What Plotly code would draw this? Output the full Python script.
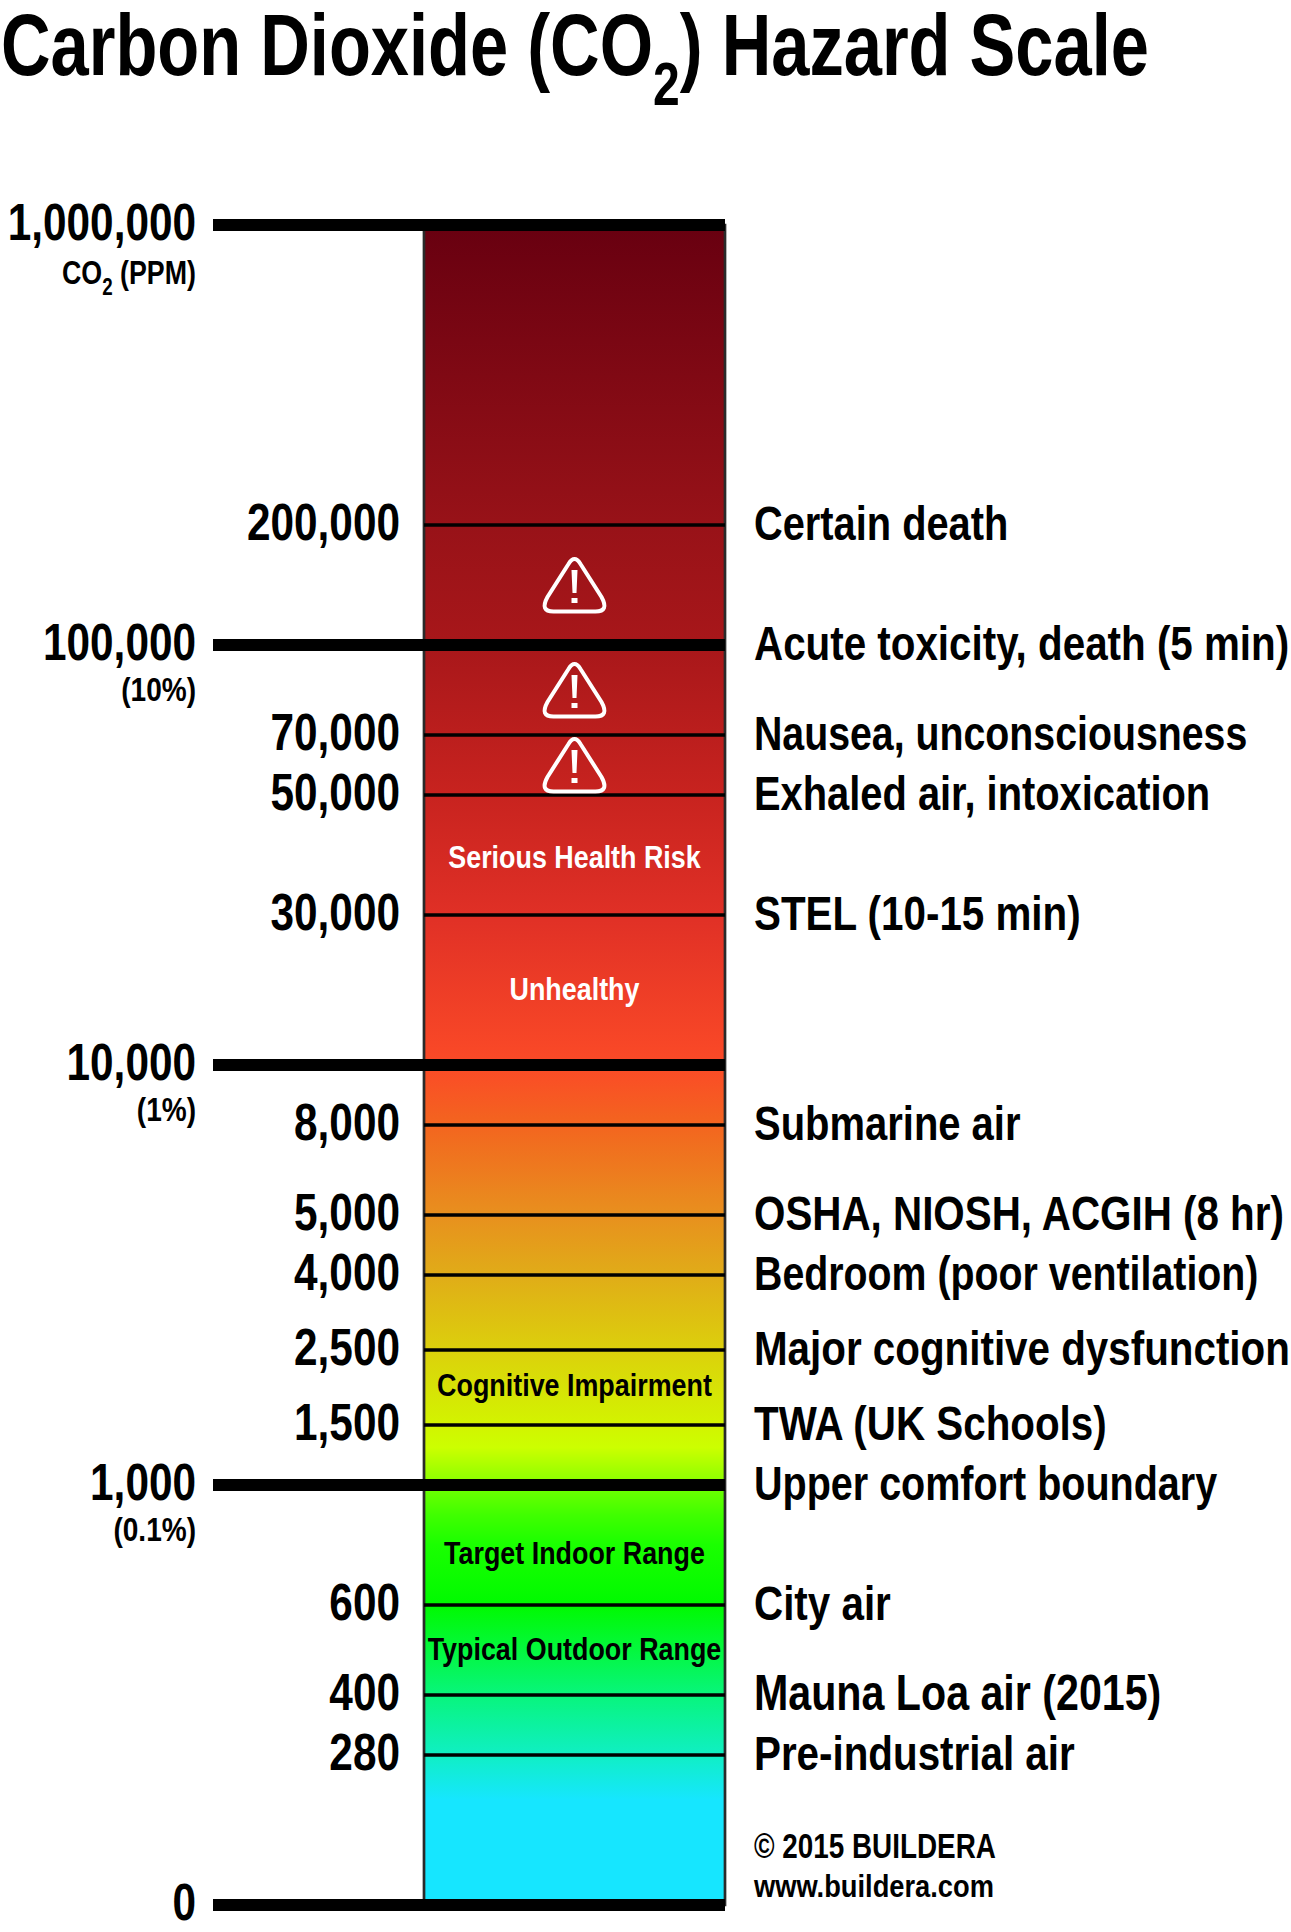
import plotly.graph_objects as go

# ---- data: printed scale (ppm), and where each level sits on the chart's uneven scale
major_ppm_labels = ["1,000,000", "100,000", "10,000", "1,000", "0"]
major_scale = [112, 84, 56, 28, 0]
major_notes = ["CO<sub>2</sub> (PPM)", "(10%)", "(1%)", "(0.1%)"]
major_note_scale = [108.8, 81, 53, 25]

minor_ppm_labels = ["200,000", "70,000", "50,000", "30,000", "8,000", "5,000", "4,000",
                    "2,500", "1,500", "600", "400", "280"]
minor_scale = [92, 78, 74, 66, 52, 46, 42, 37, 32, 20, 14, 10]

effect_labels = ["Certain death", "Acute toxicity, death (5 min)", "Nausea, unconsciousness",
                 "Exhaled air, intoxication", "STEL (10-15 min)", "Submarine air",
                 "OSHA, NIOSH, ACGIH (8 hr)", "Bedroom (poor ventilation)",
                 "Major cognitive dysfunction", "TWA (UK Schools)", "Upper comfort boundary",
                 "City air", "Mauna Loa air (2015)", "Pre-industrial air"]
effect_scale = [92, 84, 78, 74, 66, 52, 46, 42, 37, 32, 28, 20, 14, 10]

zone_labels_light = ["Serious Health Risk", "Unhealthy"]
zone_scale_light = [69.8, 61]
zone_labels_dark = ["Cognitive Impairment", "Target Indoor Range", "Typical Outdoor Range"]
zone_scale_dark = [34.6, 23.4, 17]

warning_scale = [88, 81, 76]

title_text = "Carbon Dioxide (CO<sub>2</sub>) Hazard Scale"
credit_labels = ["© 2015 BUILDERA", "www.buildera.com"]
credit_scale = [3.9, 1.2]

gradient_scale = [0, 7, 10, 14, 20, 24, 26, 27.5, 28.5, 30.5, 32, 37, 42, 46, 52, 56, 66, 74, 84, 92, 112]
gradient_colors = ["#16e6ff", "#16e6ff", "#10efc4", "#08f57c", "#00fa00", "#1aff00", "#40ff00",
                   "#66ff00", "#94ff00", "#ccff00", "#d2f400", "#dcd00c", "#e0ac18", "#e8901e",
                   "#f3651f", "#fb4a27", "#e03026", "#c8231f", "#a8171a", "#981218", "#680010"]

# ---- page geometry
W, H = 1291, 1932
BAR_L, BAR_R = 424, 725
TICK_L = 213
FONT = "Liberation Sans"
unit = 15.0
y_bottom = -(H - 1905) / unit
y_top = 1905 / unit
title_y = (1905 - 50) / unit

fig = go.Figure()
s0, s1 = gradient_scale[0], gradient_scale[-1]
cs = [[(v - s0) / (s1 - s0), c] for v, c in zip(gradient_scale, gradient_colors)]
fig.add_trace(go.Scatter(
    x=[BAR_L, BAR_R, BAR_R, BAR_L, BAR_L], y=[s0, s0, s1, s1, s0], mode="lines",
    line=dict(color="#2a2a2a", width=2.7), fill="toself", fillcolor="rgba(0,0,0,0)",
    fillgradient=dict(type="vertical", colorscale=cs, start=s0, stop=s1),
))
for v in set(minor_scale):
    fig.add_trace(go.Scatter(x=[BAR_L, BAR_R], y=[v, v], mode="lines",
                             line=dict(color="black", width=3.4)))
for v in major_scale:
    fig.add_trace(go.Scatter(x=[TICK_L, BAR_R], y=[v, v], mode="lines",
                             line=dict(color="black", width=12)))

def txt(x, y, text, pos, size, color="black"):
    fig.add_trace(go.Scatter(x=[x] * len(y), y=y, text=text, mode="text", textposition=pos,
                             cliponaxis=False,
                             textfont=dict(family=FONT, size=size, color=color, weight=700)))

txt(196, major_scale, major_ppm_labels, "middle left", 51)
txt(196, major_note_scale, major_notes, "middle left", 33)
txt(400, minor_scale, minor_ppm_labels, "middle left", 51)
txt(754, effect_scale, effect_labels, "middle right", 49)
mid = (BAR_L + BAR_R) / 2
txt(mid, zone_scale_light, zone_labels_light, "middle center", 32, "white")
txt(mid, zone_scale_dark, zone_labels_dark, "middle center", 32, "black")
txt(1, [title_y], [title_text], "middle right", 88)
txt(754, credit_scale[:1], credit_labels[:1], "middle right", 35)
txt(754, credit_scale[1:], credit_labels[1:], "middle right", 31)

tri = ("M -21,-26.5 L 21,-26.5 Q 35,-26.5 27,-12 L 6,21 Q 0,31 -6,21 L -27,-12 "
       "Q -35,-26.5 -21,-26.5 Z")
bang = "M -3,15 L 3,15 L 2,-8 L -2,-8 Z M -3,-13 L 3,-13 L 3,-18 L -3,-18 Z"
shapes = []
for v in warning_scale:
    for p, fill, lw in [(tri, "rgba(0,0,0,0)", 4), (bang, "white", 0)]:
        shapes.append(dict(type="path", path=p, xsizemode="pixel", ysizemode="pixel",
                           xanchor=mid, yanchor=v, xref="x", yref="y",
                           fillcolor=fill, line=dict(color="white", width=lw)))

fig.update_layout(
    width=W, height=H, margin=dict(l=0, r=0, t=0, b=0), showlegend=False,
    paper_bgcolor="white", plot_bgcolor="white", shapes=shapes,
    xaxis=dict(range=[0, W], visible=False, fixedrange=True),
    yaxis=dict(range=[y_bottom, y_top], visible=False, fixedrange=True),
)

# The reference face is a condensed bold; narrow the installed bold horizontally per text size,
# with small per-label trims where the two faces' letter widths disagree.
post = """
document.body.style.margin='0';document.body.style.overflow='hidden';
var squeeze={88:0.78,51:0.83,49:0.824,35:0.796,33:0.85,32:0.84,31:0.88};
var trim={'Nausea':0.973,'Exhaled':0.987,'Bedroom':0.974,'Upper':0.979,'Mauna':1.02,
          'Certain':0.986,'Submarine':0.99,'CO':0.956};
document.querySelectorAll('.textpoint text').forEach(function(t){
  var fs=Math.round(parseFloat(t.style.fontSize));
  var k=squeeze[fs]||0.8;
  var w=(t.textContent||'').split(/[ ,]/)[0];
  if(fs<88&&w.indexOf('CO')===0){k*=trim['CO'];}
  else if(trim[w]&&w!=='CO'){k*=trim[w];}
  var x=parseFloat(t.getAttribute('x'));
  t.setAttribute('transform','translate('+x+',2.5) scale('+k+',1) translate('+(-x)+',0)');
  t.querySelectorAll('tspan').forEach(function(s){
    if((s.getAttribute('style')||'').indexOf('70%')>=0){
      s.setAttribute('dy','0.5em');
      var n=s.nextSibling;
      if(n&&n.setAttribute){n.setAttribute('dy','-0.35em');}
    }
  });
});
"""
fig.write_html("out.html", config=dict(displayModeBar=False), post_script=post)
